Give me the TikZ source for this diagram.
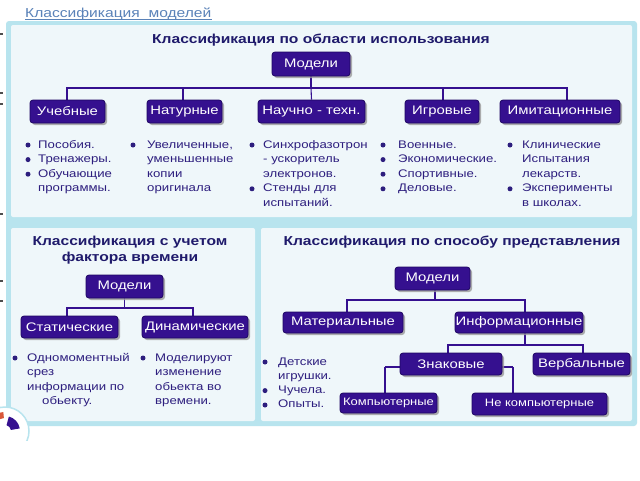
\documentclass[tikz,border=0pt]{standalone}
\usepackage{fontspec}
\setmainfont[FakeStretch=1.2]{Liberation Sans}
\usetikzlibrary{shadows}
\definecolor{boxc}{HTML}{35108F}
\definecolor{boxd}{HTML}{1E0563}
\definecolor{frame}{HTML}{B8E4EE}
\definecolor{panelbg}{HTML}{EFF7FA}
\definecolor{txt}{HTML}{2D1E7E}
\definecolor{ttlc}{HTML}{1F1A6B}
\definecolor{headc}{HTML}{5A82B8}
\definecolor{iconred}{HTML}{D9573A}
\pgfdeclarelayer{panel}
\pgfdeclarelayer{lines}
\pgfsetlayers{panel,lines,main}
\tikzset{
  mbox/.style={draw=boxd, line width=0.8pt, fill=boxc, text=white, rounded corners=3pt,
    inner sep=0pt, font=\fontsize{12.4}{14}\selectfont,
    drop shadow={shadow xshift=2pt, shadow yshift=-2pt, fill=black!40, opacity=0.8}},
  conn/.style={draw=boxc, line width=1.1pt},
  ttl/.style={text=ttlc, font=\bfseries\fontsize{13}{16}\selectfont, inner sep=0pt},
  lst/.style={text=txt, anchor=base west, inner sep=0pt, text width=120pt, align=left,
    font=\fontsize{11}{14.6}\selectfont},
  bul/.style={fill=txt},
  panelbox/.style={fill=panelbg, rounded corners=2pt}
}
\begin{document}
\begin{tikzpicture}[x=1pt,y=-1pt]
\useasboundingbox (0,0) rectangle (640,480);

\begin{pgfonlayer}{panel}
\fill[white] (0,0) rectangle (640,480);
\fill[frame, rounded corners=3pt] (6,21) rectangle (637,426);
\fill[panelbox] (11,25) rectangle (632,217);
\fill[panelbox] (11,228) rectangle (255,421);
\fill[panelbox] (261,228) rectangle (632,421);
% small marks at the left edge
\foreach \y in {33,92,103,213,280,300}
  \fill[black!70] (0,\y) rectangle (3,\y+1.5);
% partial round icon at bottom left
\begin{scope}
  \clip (0,395) rectangle (40,440);
  \coordinate (ic) at (5,431);
  \filldraw[fill=white, draw=frame, line width=1.5pt] (ic) circle (24pt);
  \fill[iconred] (ic) ++(95:19pt) arc[start angle=95, end angle=175, radius=19pt]
     -- ++(175:-6pt) arc[start angle=175, end angle=95, radius=13pt] -- cycle;
  \fill[boxc] (ic) ++(10:15pt) arc[start angle=10, end angle=75, radius=15pt]
     -- ++(75:-9pt) arc[start angle=75, end angle=10, radius=6pt] -- cycle;
\end{scope}
\end{pgfonlayer}

% header
\node[text=headc, font=\fontsize{13}{15}\selectfont, inner sep=0pt, anchor=base west] (head) at (25,17) {Классификация\ \ моделей};
\draw[headc, line width=0.7pt] ([yshift=-2pt]head.base west) -- ([yshift=-2pt]head.base east);

% ---------- top panel ----------
\node[ttl] (t1) at (321,40) {Классификация по области использования};
\node[mbox, minimum width=78, minimum height=24] (m1) at (311,64) {Модели};
\node[mbox, minimum width=75, minimum height=23] (uch) at (67.5,111.5) {Учебные};
\node[mbox, minimum width=75, minimum height=23] (nat) at (184.5,111.5) {Натурные};
\node[mbox, minimum width=107, minimum height=23] (nau) at (311.5,111.5) {Научно - техн.};
\node[mbox, minimum width=74, minimum height=23] (igr) at (442,111.5) {Игровые};
\node[mbox, minimum width=120, minimum height=23] (imi) at (560,111.5) {Имитационные};
\coordinate (b1) at (311,88);
\begin{pgfonlayer}{lines}
\draw[conn] (m1.south) -- (b1);
\draw[conn] ([xshift=-0.5pt]uch.north) |- (b1);
\draw[conn] ([xshift=-1.5pt]nat.north) |- (b1);
\draw[conn] (nau.north) -- (b1);
\draw[conn] ([xshift=1pt]igr.north) |- (b1);
\draw[conn] ([xshift=7pt]imi.north) |- (b1);
\end{pgfonlayer}

\node[lst] (l1) at (38,148) {Пособия.\\Тренажеры.\\Обучающие\\программы.};
\node[lst] (l2) at (147,148) {Увеличенные,\\уменьшенные\\копии\\оригинала};
\node[lst] (l3) at (263,148) {Синхрофазотрон\\- ускоритель\\электронов.\\Стенды для\\испытаний.};
\node[lst] (l4) at (398,148) {Военные.\\Экономические.\\Спортивные.\\Деловые.};
\node[lst] (l5) at (522,148) {Клинические\\Испытания\\лекарств.\\Эксперименты\\в школах.};
\foreach \x/\y in {28/145, 28/159.6, 28/174.2, 133/145, 252/145, 252/188.8,
  383/145, 383/159.6, 383/174.2, 383/188.8, 510/145, 510/188.8}
  \fill[bul] (\x,\y) circle (2.5pt);

% ---------- bottom-left panel ----------
\node[ttl, align=center] (t2) at (130,250) {Классификация с учетом\\фактора времени};
\node[mbox, minimum width=77, minimum height=23] (m2) at (124.5,286.5) {Модели};
\node[mbox, minimum width=97, minimum height=22] (stat) at (69.5,327) {Статические};
\node[mbox, minimum width=106, minimum height=22] (din) at (195,327) {Динамические};
\coordinate (b2) at (124.5,308);
\begin{pgfonlayer}{lines}
\draw[conn] (m2.south) -- (b2);
\draw[conn] ([xshift=-2.5pt]stat.north) |- (b2);
\draw[conn] ([xshift=-2pt]din.north) |- (b2);
\end{pgfonlayer}
\node[lst] (l6) at (27,361) {Одномоментный\\срез\\информации по\\\hspace*{15pt}обьекту.};
\node[lst] (l7) at (155,361) {Моделируют\\изменение\\обьекта во\\времени.};
\fill[bul] (15,358) circle (2.5pt);
\fill[bul] (143,358) circle (2.5pt);

% ---------- bottom-right panel ----------
\node[ttl] (t3) at (452,242) {Классификация по способу представления};
\node[mbox, minimum width=75, minimum height=23] (m3) at (432.5,278.5) {Модели};
\node[mbox, minimum width=120, minimum height=21] (mat) at (343,322.5) {Материальные};
\node[mbox, minimum width=128, minimum height=21] (inf) at (519,322.5) {Информационные};
\node[mbox, minimum width=102, minimum height=22] (zn) at (451,364) {Знаковые};
\node[mbox, minimum width=97, minimum height=22] (ver) at (581.5,364) {Вербальные};
\node[mbox, minimum width=97, minimum height=20, font=\fontsize{10.8}{12}\selectfont] (comp) at (388.5,403) {Компьютерные};
\node[mbox, minimum width=135, minimum height=22, font=\fontsize{10.8}{12}\selectfont] (ncomp) at (539.5,404) {Не компьютерные};
\coordinate (b3) at (435,300);
\coordinate (b4) at (525,345);
\coordinate (b5) at (385,367);
\coordinate (b6) at (513,367);
\begin{pgfonlayer}{lines}
\draw[conn] (m3.south -| b3) -- (b3);
\draw[conn] ([xshift=4pt]mat.north) |- (b3);
\draw[conn] ([xshift=6pt]inf.north) |- (b3);
\draw[conn] ([xshift=6pt]inf.south) -- (b4);
\draw[conn] ([xshift=-3pt]zn.north) |- (b4);
\draw[conn] ([xshift=1.5pt]ver.north) |- (b4);
\draw[conn] (b5) -- (b6);
\draw[conn] (b5) -- (b5 |- comp.north);
\draw[conn] (b6) -- (b6 |- ncomp.north);
\end{pgfonlayer}
\node[lst, font=\fontsize{11}{14.3}\selectfont] (l8) at (278,365) {Детские\\игрушки.\\Чучела.\\Опыты.};
\fill[bul] (265,362) circle (2.5pt);
\fill[bul] (265,390.6) circle (2.5pt);
\fill[bul] (265,405) circle (2.5pt);
\end{tikzpicture}
\end{document}
